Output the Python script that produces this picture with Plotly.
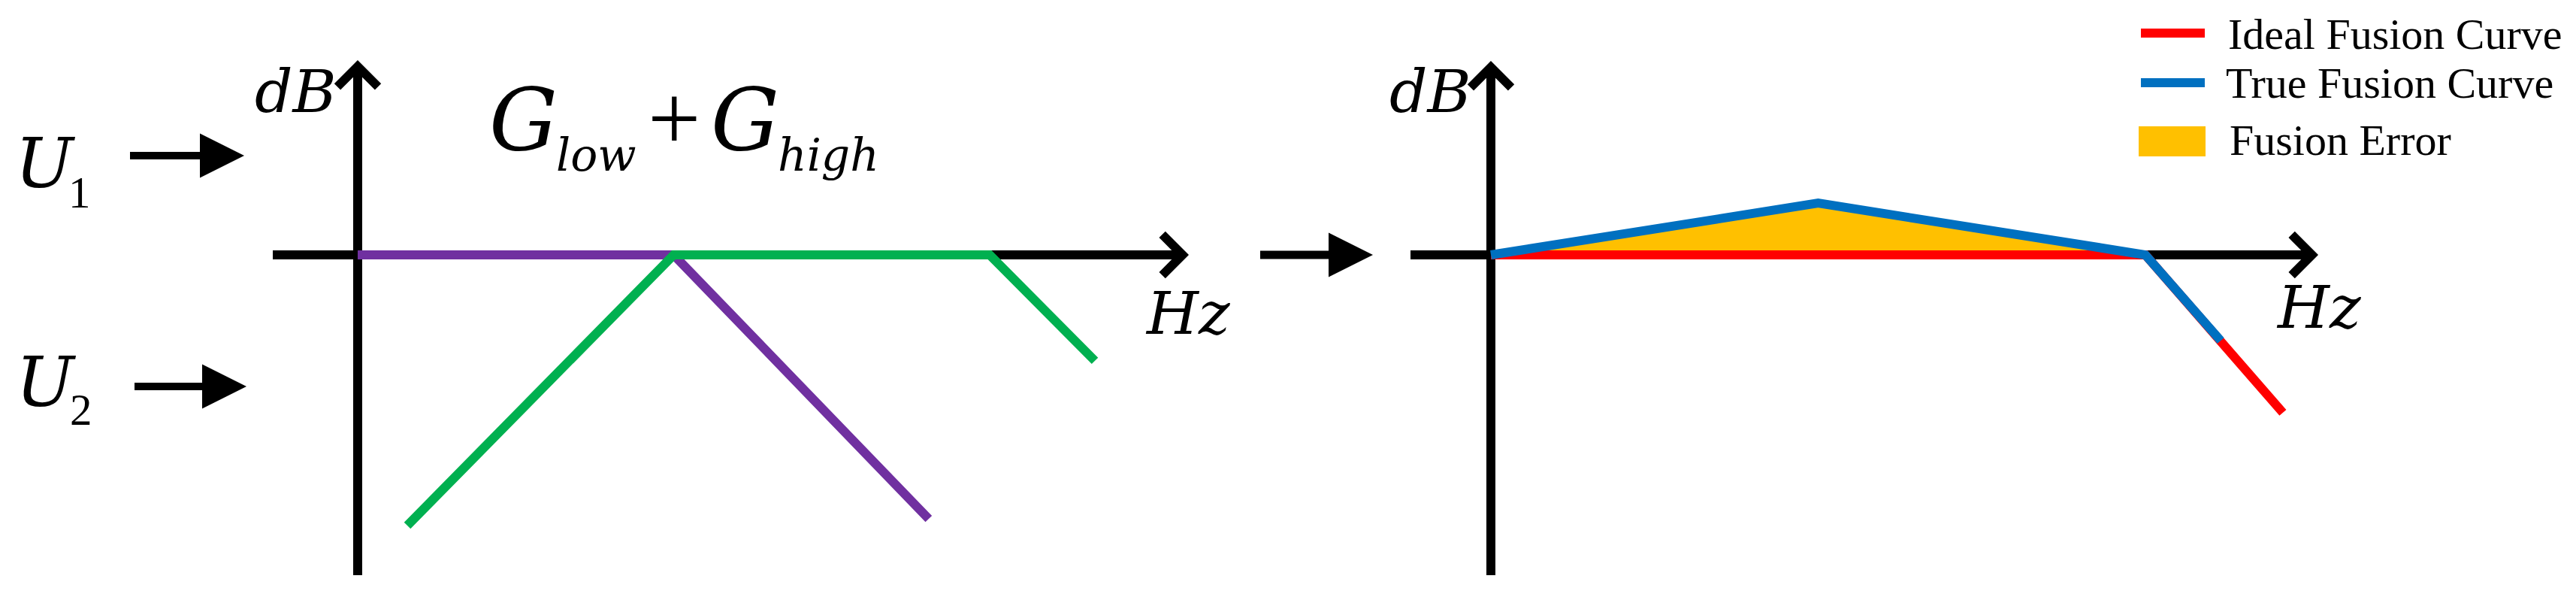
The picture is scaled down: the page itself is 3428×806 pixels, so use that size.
import plotly.graph_objects as go

# ---------------- data (diagram units: frequency breakpoints / gain) ----------------
# left panel: the two complementary filters
low_x = [0.0, 1.0, 1.807]
low_y = [0.0, 0.0, -0.835]
high_x = [0.157, 1.0, 2.0, 2.333]
high_y = [-0.856, 0.0, 0.0, -0.335]

# right panel: fused response
ideal_x = [0.0, 2.0, 2.420]
ideal_y = [0.0, 0.0, -0.482]
true_x = [0.0, 1.0, 2.0, 2.230]
true_y = [0.0, 0.158, 0.0, -0.262]

legend_labels = ["Ideal Fusion Curve", "True Fusion Curve", "Fusion Error"]

# ---------------- styling / layout constants ----------------
W, H = 3428, 806
SPLIT = 1714
O1, S1 = (476, 339), 420.5   # left panel origin (px) and px per unit
O2, S2 = (1984, 339), 435.5  # right panel origin (px) and px per unit

PURPLE, GREEN = "#7030A0", "#00B050"
RED, BLUE, YELLOW = "#FF0000", "#0070C0", "#FFC000"
FONT_UP = "Liberation Serif, serif"
FONT_IT = "DejaVu Serif, serif"
ASC_UP, ASC_IT = 0.891, 0.928
LW = 12


def PX(x):
    return x / W


def PY(y):
    return 1 - y / H


fig = go.Figure()
fig.add_trace(go.Scatter(x=low_x, y=low_y, mode="lines", line=dict(color=PURPLE, width=LW),
                         xaxis="x", yaxis="y", name="G_low"))
fig.add_trace(go.Scatter(x=high_x, y=high_y, mode="lines", line=dict(color=GREEN, width=LW),
                         xaxis="x", yaxis="y", name="G_high"))
fig.add_trace(go.Scatter(x=true_x[:3], y=true_y[:3], mode="lines", fill="toself",
                         fillcolor=YELLOW, line=dict(width=0, color=YELLOW),
                         xaxis="x2", yaxis="y2", name=legend_labels[2]))
fig.add_trace(go.Scatter(x=ideal_x, y=ideal_y, mode="lines", line=dict(color=RED, width=LW),
                         xaxis="x2", yaxis="y2", name=legend_labels[0]))
fig.add_trace(go.Scatter(x=true_x, y=true_y, mode="lines", line=dict(color=BLUE, width=LW),
                         xaxis="x2", yaxis="y2", name=legend_labels[1]))

shapes = []
annotations = []


def hline(x0, x1, y, color="black", width=LW):
    shapes.append(dict(type="line", xref="paper", yref="paper", layer="below",
                       x0=PX(x0), x1=PX(x1), y0=PY(y), y1=PY(y),
                       line=dict(color=color, width=width)))


def vline(x, y0, y1, color="black", width=LW):
    shapes.append(dict(type="line", xref="paper", yref="paper", layer="below",
                       x0=PX(x), x1=PX(x), y0=PY(y0), y1=PY(y1),
                       line=dict(color=color, width=width)))


CHEVRON = [(-2.2, -2.2), (-0.2, -0.2), (-0.2, 0.2), (-2.2, 2.2), (-1.4, 3), (1.6, 0), (-1.4, -3)]
TRIANGLE = [(-3.7, -2.5), (-3.7, 2.5), (1.3, 0)]


def head(tipx, tipy, pts, tip_u, scale, up=False):
    coords = []
    for u, v in pts:
        du, dv = (u - tip_u) * scale, v * scale
        if up:
            px_, py_ = tipx + dv, tipy - du
        else:
            px_, py_ = tipx + du, tipy + dv
        coords.append("%.6f,%.6f" % (PX(px_), PY(py_)))
    path = "M" + " L".join(coords) + " Z"
    shapes.append(dict(type="path", xref="paper", yref="paper", path=path,
                       fillcolor="black", line=dict(width=0), layer="below"))


def label(x, baseline, txt, size, anchor="center", italic=False):
    asc = ASC_IT if italic else ASC_UP
    ytop = baseline - asc * size - 1
    f = dict(family=FONT_IT if italic else FONT_UP, size=size, color="black",
             style="italic" if italic else "normal")
    annotations.append(dict(x=PX(x), y=PY(ytop), xref="paper", yref="paper",
                            text=txt, showarrow=False, xanchor=anchor, yanchor="top",
                            borderpad=0, font=f))


CH = 10.4  # chevron scale
# coordinate axes
hline(363, 1582 - 14, 339)
vline(476, 765, 80 + 14)
head(1582, 339, CHEVRON, 1.6, CH)
head(476, 80, CHEVRON, 1.6, CH, up=True)

hline(1877, 3085 - 14, 339)
vline(1984, 765, 81 + 14)
head(3085, 339, CHEVRON, 1.6, CH)
head(1984, 81, CHEVRON, 1.6, CH, up=True)

# input arrows and the arrow between panels
hline(173, 275, 207, width=10)
head(325, 207, TRIANGLE, 1.3, 11.8)
hline(179, 278, 514, width=10)
head(328, 514, TRIANGLE, 1.3, 11.8)
hline(1677, 1775, 339, width=11)
head(1827, 339, TRIANGLE, 1.3, 11.8)

# input labels
label(19, 249, "U", 92, anchor="left", italic=True)
label(90, 276, "1", 59, anchor="left")
label(20, 540, "U", 92, anchor="left", italic=True)
label(92, 565, "2", 59, anchor="left")

# axis labels
label(393.5, 149, "dB", 79, italic=True)
label(1903.5, 149, "dB", 79, italic=True)
label(1580.5, 444, "Hz", 79, italic=True)
label(3085, 436, "Hz", 79, italic=True)

# G_low + G_high
label(650, 199, "G", 114, anchor="left", italic=True)
label(739, 227, "low", 60, anchor="left", italic=True)
label(897, 199, "+", 125)
label(945, 199, "G", 114, anchor="left", italic=True)
label(1034, 227, "high", 60, anchor="left", italic=True)

# legend (drawn manually)
hline(2849, 2934, 44, RED, LW)
hline(2849, 2934, 110, BLUE, LW)
shapes.append(dict(type="rect", xref="paper", yref="paper", layer="below",
                   x0=PX(2846), x1=PX(2935), y0=PY(208), y1=PY(168),
                   fillcolor=YELLOW, line=dict(width=0)))
label(2964, 65, legend_labels[0], 58, anchor="left")
label(2961, 130, legend_labels[1], 58, anchor="left")
label(2966, 206, legend_labels[2], 58, anchor="left")

ax_common = dict(visible=False, showgrid=False, zeroline=False, fixedrange=True)
fig.update_layout(
    width=W, height=H, autosize=False,
    margin=dict(l=0, r=0, t=0, b=0, pad=0),
    paper_bgcolor="white", plot_bgcolor="rgba(0,0,0,0)",
    showlegend=False, hovermode=False,
    xaxis=dict(domain=[0, SPLIT / W], range=[(0 - O1[0]) / S1, (SPLIT - O1[0]) / S1], **ax_common),
    yaxis=dict(domain=[0, 1], range=[(O1[1] - H) / S1, O1[1] / S1], **ax_common),
    xaxis2=dict(domain=[SPLIT / W, 1], range=[(SPLIT - O2[0]) / S2, (W - O2[0]) / S2],
                anchor="y2", **ax_common),
    yaxis2=dict(domain=[0, 1], range=[(O2[1] - H) / S2, O2[1] / S2], anchor="x2", **ax_common),
    shapes=shapes, annotations=annotations,
)

fig.write_html("out.html", config={"staticPlot": True},
               post_script="document.body.style.margin='0';document.body.style.overflow='hidden';")
